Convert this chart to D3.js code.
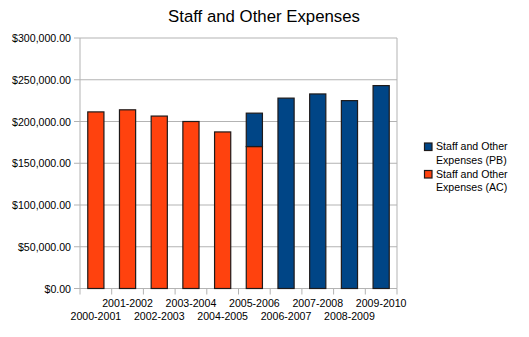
<!DOCTYPE html>
<html><head><meta charset="utf-8">
<script src="https://cdn.jsdelivr.net/npm/d3@7"></script>
<style>body{margin:0;background:#fff}svg{display:block;font-family:"Liberation Sans",Arial,sans-serif}</style>
</head><body><svg id="c" width="529" height="337"></svg>
<script>
const categories = ["2000-2001","2001-2002","2002-2003","2003-2004","2004-2005","2005-2006","2006-2007","2007-2008","2008-2009","2009-2010"];
const seriesAC = [211500,214000,206500,200000,187500,170000,0,0,0,0];
const seriesPB = [0,0,0,0,0,40000,228000,233000,225000,243000];
const yTicks = [0,50000,100000,150000,200000,250000,300000];
const seriesNames = ["Staff and Other Expenses (PB)","Staff and Other Expenses (AC)"];
const colors = {AC:"#ff420e", PB:"#004586"};

const svg = d3.select("#c");
const L=80, R=397, T=38, B=288.5;
const x = d3.scaleBand().domain(categories).range([L,R]).paddingInner(0.49).paddingOuter(0.245);
const xb = d3.scaleBand().domain(categories).range([L,R]);
const y = d3.scaleLinear().domain([0,300000]).range([B,T]);
const grid="#b3b3b3";

svg.append("text").attr("x",264).attr("y",22).attr("text-anchor","middle")
  .attr("font-size",16.8).attr("fill","#000").text("Staff and Other Expenses");

// gridlines
svg.append("g").selectAll("line").data(yTicks).join("line")
  .attr("x1",74).attr("x2",R).attr("y1",d=>y(d)).attr("y2",d=>y(d))
  .attr("stroke",grid).attr("stroke-width",1);
// y axis labels
const fmt = d=>"$"+d3.format(",.2f")(d);
svg.append("g").selectAll("text").data(yTicks).join("text")
  .attr("x",71).attr("y",d=>y(d)+4).attr("text-anchor","end")
  .attr("font-size",10.6).attr("fill","#000").text(fmt);
// left & right borders
svg.append("line").attr("x1",L).attr("x2",L).attr("y1",T).attr("y2",B).attr("stroke",grid);
svg.append("line").attr("x1",R).attr("x2",R).attr("y1",T).attr("y2",B).attr("stroke",grid);
// x ticks
const bounds = categories.map(c=>xb(c)).concat([R]);
svg.append("g").selectAll("line").data(bounds).join("line")
  .attr("x1",d=>d).attr("x2",d=>d).attr("y1",B).attr("y2",B+6).attr("stroke",grid);
// x labels
svg.append("g").selectAll("text").data(categories).join("text")
  .attr("x",d=>xb(d)+xb.bandwidth()/2).attr("y",(d,i)=>i%2===0?320:306.5)
  .attr("text-anchor","middle").attr("font-size",10.6).attr("fill","#000").text(d=>d);

// bars
const data = categories.map((c,i)=>({c, AC:seriesAC[i], PB:seriesPB[i]}));
const stack = d3.stack().keys(["AC","PB"])(data);
svg.append("g").selectAll("g").data(stack).join("g").attr("fill",d=>colors[d.key])
  .selectAll("rect").data(d=>d.filter(v=>v[1]-v[0]>0)).join("rect")
  .attr("x",d=>x(d.data.c)).attr("width",x.bandwidth())
  .attr("y",d=>y(d[1])).attr("height",d=>y(d[0])-y(d[1]))
  .attr("stroke","#1e1a1a").attr("stroke-width",1.2);

// legend
const leg = svg.append("g");
const legItems = [{k:"PB",lines:["Staff and Other","Expenses (PB)"]},{k:"AC",lines:["Staff and Other","Expenses (AC)"]}];
legItems.forEach((it,i)=>{
  const y0 = 150 + i*27.5;
  leg.append("rect").attr("x",424.5).attr("y",y0-7).attr("width",7.5).attr("height",7.5)
    .attr("fill",colors[it.k]).attr("stroke","#1e1a1a").attr("stroke-width",1.2);
  it.lines.forEach((t,j)=>leg.append("text").attr("x",436).attr("y",y0+j*13.8)
    .attr("font-size",10.6).attr("fill","#000").text(t));
});
</script></body></html>
